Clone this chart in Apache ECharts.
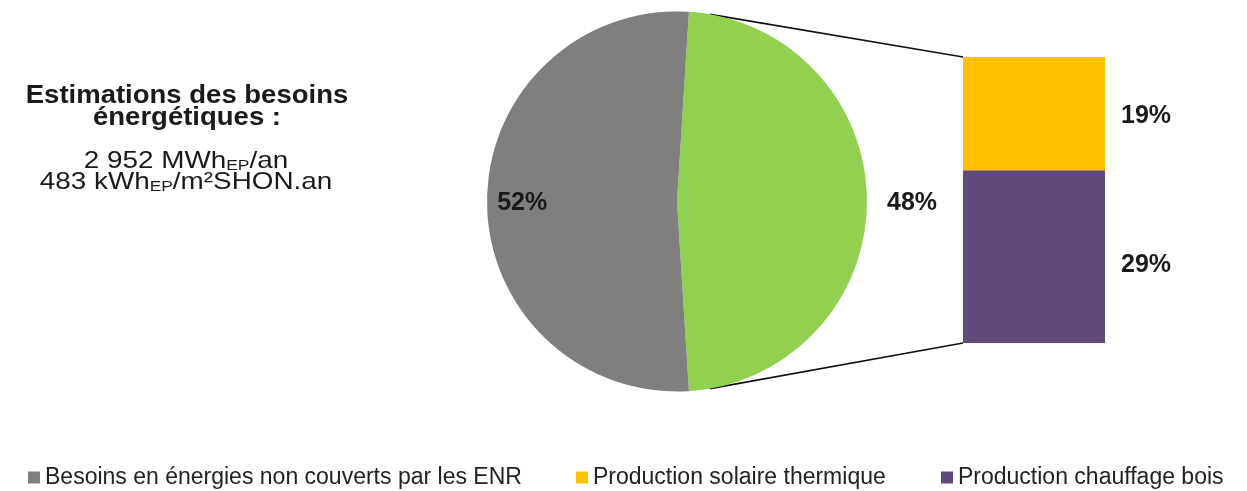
<!DOCTYPE html>
<html>
<head>
<meta charset="utf-8">
<script src="https://cdn.jsdelivr.net/npm/echarts@6/dist/echarts.min.js"></script>
<style>html,body{margin:0;padding:0;background:#fff}#c{width:1247px;height:491px}</style>
</head>
<body>
<div id="c"></div>
<script>
// ---- data ----
var pieNames = ['Part ENR', 'Besoins en énergies non couverts par les ENR'];
var pieValues = [48, 52];
var barCategories = ['ENR'];
var barNames = ['Production chauffage bois', 'Production solaire thermique'];
var barValues = [[29], [19]];
var titleLines = ['Estimations des besoins', 'énergétiques :'];
var infoLines = [['2 952 MWh', 'EP', '/an'], ['483 kWh', 'EP', '/m²SHON.an']];

// ---- layout / style ----
var C_GRAY = '#7f7f7f', C_GREEN = '#92d050', C_YEL = '#ffc000', C_PUR = '#604a7b';
var TXT = '#1a1a1a';
var FONT = 'Liberation Sans, Arial, sans-serif';
var CX = 677, CY = 201.5, R = 190;
var GL = 963, GT = 57, GW = 142, GH = 286;
var ANCHOR_DEG = 10; // connector anchor angle from vertical on pie

var total = pieValues.reduce(function (a, b) { return a + b; }, 0);
var startAngle = pieValues[0] / total * 360 / 2;
var barMax = barValues.reduce(function (a, v) { return a + v[0]; }, 0);

var chart = echarts.init(document.getElementById('c'), null, {renderer: 'canvas'});

var series = [{
  type: 'pie',
  center: [CX, CY],
  radius: [0, R],
  startAngle: startAngle,
  clockwise: true,
  silent: true,
  animation: false,
  data: pieNames.map(function (n, i) {
    return {name: n, value: pieValues[i], itemStyle: {color: i === 0 ? C_GREEN : C_GRAY}};
  }),
  label: {
    show: true, position: 'inside', formatter: '{c}%',
    fontFamily: FONT, fontSize: 25, fontWeight: 'bold', color: TXT
  },
  labelLine: {show: false},
  labelLayout: function (p) {
    if (p.dataIndex === 0) return {x: CX + R + 45, y: CY + 2, align: 'center', verticalAlign: 'middle'};
    return {x: CX - R * 0.815, y: CY + 2, align: 'center', verticalAlign: 'middle'};
  }
}];
barNames.forEach(function (n, i) {
  series.push({
    type: 'bar', name: n, stack: 'enr', barWidth: '100%', animation: false, silent: true,
    data: barValues[i],
    itemStyle: {color: i === 0 ? C_PUR : C_YEL},
    label: {show: true, position: 'right', distance: 16, formatter: '{c}%',
      offset: [0, i === 0 ? 9 : 3],
      fontFamily: FONT, fontSize: 25, fontWeight: 'bold', color: TXT}
  });
});

function legend(name, left) {
  return {
    data: [name], left: left, top: 466, icon: 'rect', itemWidth: 12, itemHeight: 12,
    selectedMode: false, padding: 0,
    textStyle: {fontFamily: FONT, fontSize: 23, color: '#222'}
  };
}

var a = ANCHOR_DEG * Math.PI / 180;
var ax = CX + R * Math.sin(a), ayTop = CY - R * Math.cos(a), ayBot = CY + R * Math.cos(a);

function infoText(line, y) {
  return {type: 'text', x: 186, y: y, scaleX: 1.16, silent: true, style: {
    text: '{a|' + line[0] + '}{s|' + line[1] + '}{a|' + line[2] + '}',
    align: 'center', verticalAlign: 'middle',
    rich: {a: {fontFamily: FONT, fontSize: 24, lineHeight: 26, fill: TXT, verticalAlign: 'bottom'},
           s: {fontFamily: FONT, fontSize: 15, lineHeight: 14, fill: TXT, verticalAlign: 'bottom'}}
  }};
}

chart.setOption({
  backgroundColor: '#fff',
  animation: false,
  grid: {left: GL, top: GT, width: GW, height: GH},
  xAxis: {type: 'category', data: barCategories, show: false},
  yAxis: {type: 'value', min: 0, max: barMax, show: false},
  legend: [legend(pieNames[1], 28), legend(barNames[1], 576), legend(barNames[0], 941)],
  series: series,
  graphic: [
    {type: 'line', silent: true, shape: {x1: ax, y1: ayTop, x2: GL, y2: GT}, style: {stroke: '#111', lineWidth: 1.6}},
    {type: 'line', silent: true, shape: {x1: ax, y1: ayBot, x2: GL, y2: GT + GH}, style: {stroke: '#111', lineWidth: 1.6}},
    {type: 'text', x: 187, y: 107, scaleX: 1.1, silent: true, style: {
      text: titleLines.join('\n'), fontFamily: FONT, fontSize: 25, fontWeight: 'bold', fill: TXT,
      lineHeight: 22, align: 'center', verticalAlign: 'middle'
    }},
    infoText(infoLines[0], 160),
    infoText(infoLines[1], 181)
  ]
});
</script>
</body>
</html>
